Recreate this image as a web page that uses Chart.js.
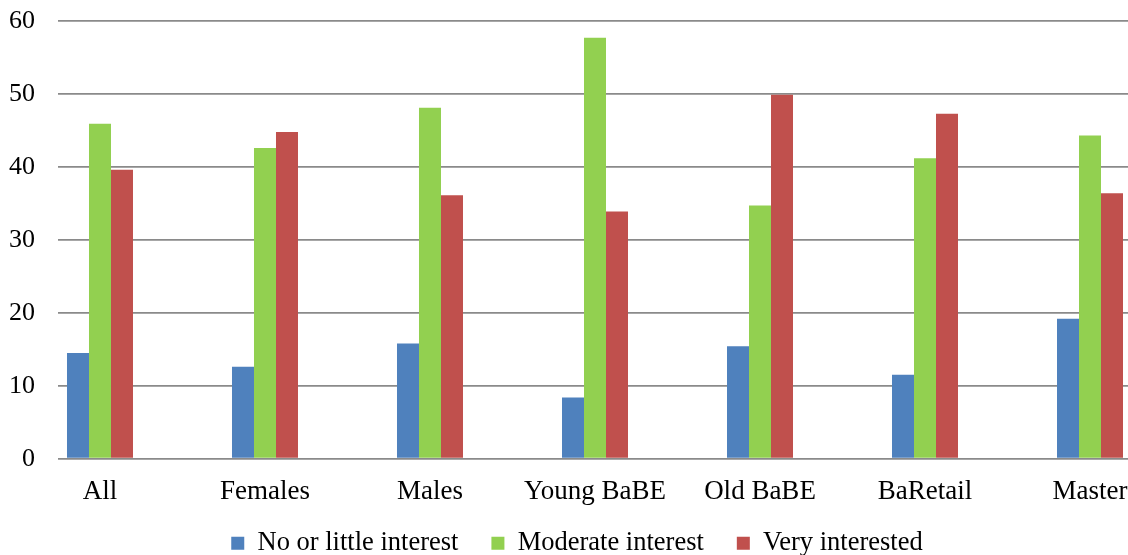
<!DOCTYPE html>
<html>
<head>
<meta charset="utf-8">
<script src="https://cdn.jsdelivr.net/npm/chart.js@4.4.1/dist/chart.umd.min.js"></script>
<style>
  html, body { margin: 0; padding: 0; background: #ffffff; }
  #wrap { width: 1128px; height: 555px; }
</style>
</head>
<body>
<div id="wrap"><canvas id="chart" width="1128" height="555"></canvas></div>
<script>
// Interest level by respondent group (percent)
const categories = ['All', 'Females', 'Males', 'Young BaBE', 'Old BaBE', 'BaRetail', 'Master'];
const seriesNames = ['No or little interest', 'Moderate interest', 'Very interested'];
const noInterest = [14.5, 12.6, 15.8, 8.4, 15.4, 11.5, 19.2];
const moderateInterest = [45.9, 42.6, 48.1, 57.7, 34.7, 41.2, 44.3];
const veryInterested = [39.6, 44.8, 36.1, 33.9, 49.9, 47.3, 36.4];
const yTickValues = [0, 10, 20, 30, 40, 50, 60];

const colors = ['#4F81BD', '#92D050', '#C0504D'];
const FONT = '"Liberation Serif", "Times New Roman", serif';

const toPoints = values => values.map((v, i) => ({ x: i, y: v }));

const datasets = [noInterest, moderateInterest, veryInterested].map((values, k) => ({
  label: seriesNames[k],
  data: toPoints(values),
  backgroundColor: colors[k],
  borderWidth: 0,
  categoryPercentage: 0.4,
  barPercentage: 1.0
}));

new Chart(document.getElementById('chart'), {
  type: 'bar',
  data: { datasets },
  options: {
    responsive: false,
    animation: false,
    devicePixelRatio: 1,
    layout: { padding: { top: 21, left: 0, right: -26, bottom: -11.5 } },
    plugins: {
      tooltip: { enabled: false },
      legend: {
        position: 'bottom',
        labels: {
          boxWidth: 13,
          boxHeight: 13,
          padding: 33,
          color: '#000000',
          font: { family: FONT, size: 26.5 }
        }
      }
    },
    scales: {
      x: {
        type: 'linear',
        offset: false,
        // the axis runs a little past the first and last groups
        min: -0.2545,
        max: 6.2303,
        grid: { display: false, drawTicks: false },
        border: { display: false },
        afterBuildTicks: scale => {
          scale.ticks = categories.map((_, i) => ({ value: i }));
        },
        afterFit: scale => {
          // keep the axis band short so the legend sits close; labels may run below it
          scale.height = 38.3;
          scale.paddingLeft = 0;
          scale.paddingRight = 0;
          scale._computeLabelArea = () => undefined;
        },
        ticks: {
          autoSkip: false,
          maxRotation: 0,
          minRotation: 0,
          padding: 17,
          color: '#000000',
          font: { family: FONT, size: 27 },
          callback: v => categories[v] ?? ''
        }
      },
      y: {
        min: yTickValues[0],
        max: yTickValues[yTickValues.length - 1],
        afterBuildTicks: scale => {
          scale.ticks = yTickValues.map(v => ({ value: v }));
        },
        afterFit: scale => {
          scale.width = 58;
          scale.paddingTop = 0;
          scale.paddingBottom = 0;
        },
        grid: { color: '#8a8a8a', lineWidth: 1.75, drawTicks: false },
        border: { display: false },
        ticks: {
          padding: 23,
          color: '#000000',
          font: { family: FONT, size: 26 }
        }
      }
    }
  }
});
</script>
</body>
</html>
